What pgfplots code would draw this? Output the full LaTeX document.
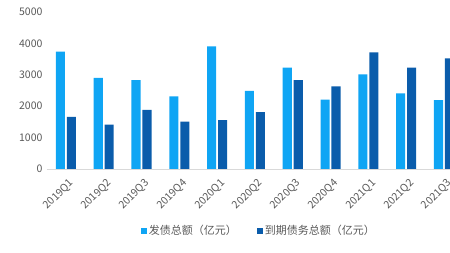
\documentclass[border=0pt]{standalone}
\usepackage{pgfplots}
\pgfplotsset{compat=1.18}
\usepackage{fontspec}
\setmainfont{Noto Sans CJK SC}
\definecolor{lightb}{HTML}{0FA5F4}
\definecolor{darkb}{HTML}{0A5CAB}
\definecolor{txtgray}{HTML}{595959}
\definecolor{axgray}{HTML}{D9D9D9}
\begin{document}
\begin{tikzpicture}[x=1pt,y=1pt]
\useasboundingbox (0,0) rectangle (450,253);
\begin{axis}[
  at={(47pt,84pt)}, anchor=south west,
  scale only axis, width=403pt, height=157pt,
  xmin=-0.5, xmax=10.16, ymin=0, ymax=5000,
  ytick={0,1000,2000,3000,4000,5000},
  xtick={0,1,2,3,4,5,6,7,8,9,10},
  xticklabels={2019Q1,2019Q2,2019Q3,2019Q4,2020Q1,2020Q2,2020Q3,2020Q4,2021Q1,2021Q2,2021Q3},
  axis x line*=bottom, axis y line*=left,
  x axis line style={draw=axgray, line width=0.8pt, -},
  y axis line style={draw=none},
  tick style={draw=none},
  major tick length=0pt,
  /pgf/number format/assume math mode=true,
  /pgf/number format/1000 sep={},
  tick label style={font=\fontsize{10.5}{12}\selectfont, text=txtgray},
  yticklabel style={anchor=east, xshift=-1pt},
  xticklabel style={rotate=45, anchor=east, xshift=-1pt, yshift=-13pt},
  ybar, bar width=0.24,
  legend style={at={(0.526,-0.392)}, anchor=center, draw=none, fill=none,
    font=\fontsize{11}{12}\selectfont, text=txtgray, legend columns=2,
    /tikz/every even column/.append style={column sep=18pt}},
  legend image code/.code={\fill[#1] (0pt,-3pt) rectangle (6pt,3pt);},
  clip=true,
]
\addplot[fill=lightb, draw=none, bar shift=-0.145] coordinates {
(0,3735) (1,2898) (2,2834) (3,2315) (4,3907) (5,2484) (6,3226) (7,2207) (8,3016) (9,2410) (10,2197)};
\addplot[fill=darkb, draw=none, bar shift=0.145] coordinates {
(0,1656) (1,1411) (2,1879) (3,1506) (4,1560) (5,1815) (6,2834) (7,2634) (8,3716) (9,3226) (10,3525)};
\legend{发债总额（亿元）,到期债务总额（亿元）}
\end{axis}
\end{tikzpicture}
\end{document}
